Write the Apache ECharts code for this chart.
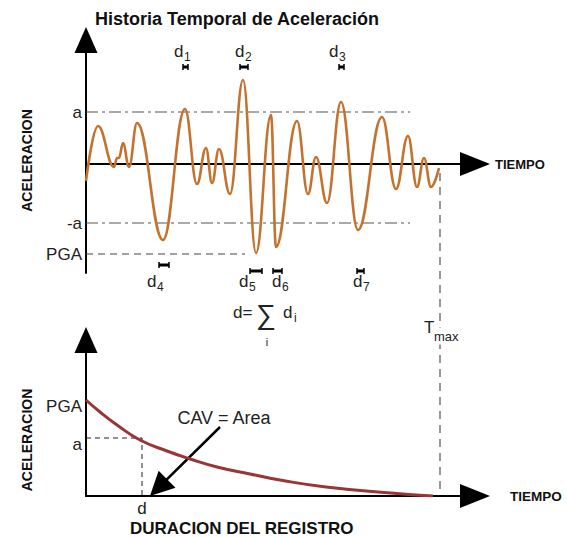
<!DOCTYPE html>
<html><head><meta charset="utf-8">
<script src="https://cdn.jsdelivr.net/npm/echarts@6.0.0/dist/echarts.min.js"></script>
<style>html,body{margin:0;padding:0;background:#fff}#c{width:567px;height:537px}</style>
</head><body><div id="c"></div>
<script>
// ---------- Top panel: acceleration time history (time in s, acceleration in g) ----------
const waveTime = [0, 1.2, 2.8, 3.1, 3.3, 3.7, 4.3, 5.1, 7.7, 9.9, 11.1, 12.0, 12.6, 13.3, 14.4, 15.7, 17.0, 18.5, 19.0, 21.1, 22.2, 23.0, 24.1, 25.5, 27.2, 29.6, 31.0, 32.2, 33.1, 33.8, 34.5, 35.3];
const waveAcc  = [-0.17, 0.38, -0.03, 0.06, 0.06, 0.21, -0.03, 0.41, -0.76, 0.55, -0.20, 0.16, -0.19, 0.15, -0.30, 0.84, -0.89, 0.49, -0.83, 0.43, -0.30, 0.07, -0.39, 0.62, -0.66, 0.47, -0.25, 0.28, -0.23, 0.06, -0.23, -0.04];
const aLevel = 0.52, negALevel = -0.59, pgaLevel = -0.90;
const aLineEnd = 32.4;       // end time of the ±a threshold lines
const pgaLineEnd = 15.9;     // end time of the PGA dashed line
const tMax = 35.4;
const tMaxLineTop = -0.09, tMaxLineBottom = -3.29;
const topYLabelValues = [aLevel, negALevel, pgaLevel];
const topYLabelTexts  = ['a', '-a', 'PGA'];
// exceedance intervals d1..d7 : [start, end] and the level of the marker
const dStart = [9.7, 15.4, 25.3, 7.3, 16.4, 18.7, 27.1];
const dEnd   = [10.2, 16.2, 25.8, 8.3, 17.6, 19.6, 27.8];
const dMarkLevel = [0.97, 0.97, 0.97, -1.01, -1.07, -1.07, -1.07];
const dLabelT = [8.8, 14.9, 24.3, 6.1, 15.3, 18.6, 26.7];
const dLabelA = [1.13, 1.13, 1.13, -1.17, -1.17, -1.17, -1.17];
const dSubs   = ['1', '2', '3', '4', '5', '6', '7'];
const sumLabelPos  = [14.7, -1.48];
const tMaxLabelPos = [33.8, -1.63];

// ---------- Bottom panel: threshold vs. duration ----------
const decayTime = [0, 1.4, 3.1, 5.4, 8.1, 10.4, 13.1, 16.4, 19.4, 24.0, 30.5, 34.7];
const decayAcc  = [0.96, 0.84, 0.71, 0.56, 0.45, 0.37, 0.29, 0.22, 0.16, 0.09, 0.03, 0.0];
const pgaB = 0.96, aB = 0.58, dTotal = 5.6;
const cavArrowFrom = [13.4, 0.69], cavArrowTo = [7.25, 0.084];
const cavLabelPos = [13.8, 0.78];

const F = '"Liberation Sans", Arial, Helvetica, sans-serif';
const X_MAX = 38.9;

const zip = (a, b) => a.map((v, i) => [v, b[i]]);
const txt = (x, y, text, size, extra) => ({type: 'text', x, y, style: Object.assign({text, font: size + 'px ' + F, fill: '#222', align: 'left', verticalAlign: 'middle'}, extra || {})});

const chart = echarts.init(document.getElementById('c'), null, {renderer: 'svg'});
const axisLineStyle = {color: '#000', width: 2};
chart.setOption({
  animation: false,
  backgroundColor: '#fff',
  title: [
    {text: 'Historia Temporal de Aceleración', left: 95, top: 10, padding: 0,
     textStyle: {fontSize: 18, fontWeight: 'bold', color: '#111', fontFamily: F}},
    {text: 'DURACION DEL REGISTRO', left: 130, top: 520, padding: 0,
     textStyle: {fontSize: 17, fontWeight: 'bold', color: '#111', fontFamily: F}}
  ],
  grid: [
    {left: 86, top: 40, width: 389, height: 233, outerBoundsMode: 'none'},
    {left: 86, top: 340, width: 389, height: 156, outerBoundsMode: 'none'}
  ],
  xAxis: [
    {gridIndex: 0, type: 'value', min: 0, max: X_MAX,
     axisLine: {onZero: true, symbol: ['none', 'triangle'], symbolSize: [24, 30], lineStyle: axisLineStyle},
     axisTick: {show: false}, axisLabel: {show: false}, splitLine: {show: false},
     name: 'TIEMPO', nameLocation: 'end', nameGap: 20,
     nameTextStyle: {fontSize: 13, fontWeight: 'bold', color: '#111', fontFamily: F}},
    {gridIndex: 1, type: 'value', min: 0, max: X_MAX,
     axisLine: {onZero: true, symbol: ['none', 'triangle'], symbolSize: [24, 30], lineStyle: axisLineStyle},
     axisTick: {show: false}, splitLine: {show: false},
     axisLabel: {customValues: [dTotal], formatter: () => 'd', margin: 4, fontSize: 17, color: '#222', fontFamily: F},
     name: 'TIEMPO', nameLocation: 'end', nameGap: 35,
     nameTextStyle: {fontSize: 13.5, fontWeight: 'bold', color: '#111', fontFamily: F}}
  ],
  yAxis: [
    {gridIndex: 0, type: 'value', min: -1.09, max: 1.24,
     axisLine: {onZero: true, symbol: ['none', 'triangle'], symbolSize: [23, 26], lineStyle: axisLineStyle},
     axisTick: {show: false}, splitLine: {show: false},
     axisLabel: {customValues: topYLabelValues, margin: 4, fontSize: 17, color: '#222', fontFamily: F,
       formatter: v => topYLabelTexts[topYLabelValues.indexOf(v)] || ''},
     name: 'ACELERACION', nameLocation: 'middle', nameRotate: 90, nameGap: 52,
     nameTextStyle: {fontSize: 14, fontWeight: 'bold', color: '#111', fontFamily: F, padding: [0, 8, 0, 0]}},
    {gridIndex: 1, type: 'value', min: 0, max: 1.56,
     axisLine: {onZero: true, symbol: ['none', 'triangle'], symbolSize: [23, 26], lineStyle: axisLineStyle},
     axisTick: {show: false}, splitLine: {show: false},
     axisLabel: {customValues: [pgaB, aB], margin: 4, fontSize: 17, color: '#222', fontFamily: F,
       verticalAlign: 'top', lineHeight: 12, formatter: v => (v === pgaB ? 'PGA' : 'a')},
     name: 'ACELERACION', nameLocation: 'middle', nameRotate: 90, nameGap: 52,
     nameTextStyle: {fontSize: 14, fontWeight: 'bold', color: '#111', fontFamily: F, padding: [0, 44, 0, 0]}}
  ],
  series: [
    // threshold lines
    {type: 'line', xAxisIndex: 0, yAxisIndex: 0, showSymbol: false, silent: true,
     data: [[0, aLevel], [aLineEnd, aLevel]], lineStyle: {color: '#555', width: 1.2, type: [12, 4, 3, 4]}},
    {type: 'line', xAxisIndex: 0, yAxisIndex: 0, showSymbol: false, silent: true,
     data: [[0, negALevel], [aLineEnd, negALevel]], lineStyle: {color: '#555', width: 1.2, type: [12, 4, 3, 4]}},
    {type: 'line', xAxisIndex: 0, yAxisIndex: 0, showSymbol: false, silent: true,
     data: [[0, pgaLevel], [pgaLineEnd, pgaLevel]], lineStyle: {color: '#444', width: 1, type: [7, 5]}},
    {type: 'line', xAxisIndex: 0, yAxisIndex: 0, showSymbol: false, silent: true, clip: false,
     data: [[tMax, tMaxLineTop], [tMax, tMaxLineBottom]], lineStyle: {color: '#777', width: 1.5, type: [8, 6]}},
    // waveform
    {type: 'line', xAxisIndex: 0, yAxisIndex: 0, showSymbol: false, silent: true, z: 5,
     smooth: 0.42, smoothMonotone: 'x',
     data: zip(waveTime, waveAcc), lineStyle: {color: '#c4732f', width: 2.6}},
    // duration markers
    {type: 'custom', xAxisIndex: 0, yAxisIndex: 0, silent: true, z: 6,
     data: dStart.map((s, i) => [s, dEnd[i], dMarkLevel[i]]),
     encode: {x: [0, 1], y: 2},
     renderItem: (params, api) => {
       const p1 = api.coord([api.value(0), api.value(2)]);
       const p2 = api.coord([api.value(1), api.value(2)]);
       const h = 3;
       return {type: 'group', children: [
         {type: 'line', shape: {x1: p1[0], y1: p1[1], x2: p2[0], y2: p2[1]}, style: {stroke: '#000', lineWidth: 3}},
         {type: 'line', shape: {x1: p1[0], y1: p1[1] - h, x2: p1[0], y2: p1[1] + h}, style: {stroke: '#000', lineWidth: 1.5}},
         {type: 'line', shape: {x1: p2[0], y1: p2[1] - h, x2: p2[0], y2: p2[1] + h}, style: {stroke: '#000', lineWidth: 1.5}}
       ]};
     }},
    // d_i labels
    {type: 'custom', xAxisIndex: 0, yAxisIndex: 0, silent: true, z: 6,
     data: zip(dLabelT, dLabelA), encode: {x: 0, y: 1},
     renderItem: (params, api) => {
       const p = api.coord([api.value(0), api.value(1)]);
       return {type: 'group', children: [
         txt(p[0], p[1], 'd', 17),
         txt(p[0] + 10, p[1] + 6, dSubs[params.dataIndex], 12)
       ]};
     }},
    // sum formula and Tmax label
    {type: 'custom', xAxisIndex: 0, yAxisIndex: 0, silent: true, z: 7,
     data: [sumLabelPos, tMaxLabelPos], encode: {x: 0, y: 1},
     renderItem: (params, api) => {
       const p = api.coord([api.value(0), api.value(1)]);
       if (params.dataIndex === 0) {
         return {type: 'group', children: [
           txt(p[0], p[1], 'd=', 17),
           txt(p[0] + 33, p[1] + 2, '\u2211', 28, {align: 'center'}),
           txt(p[0] + 34, p[1] + 30, 'i', 11, {align: 'center'}),
           txt(p[0] + 50, p[1], 'd', 17),
           txt(p[0] + 61, p[1] + 6, 'i', 12)
         ]};
       }
       return {type: 'group', children: [
         txt(p[0], p[1], 'T', 17),
         txt(p[0] + 10, p[1] + 9, 'max', 13, {backgroundColor: '#fff', padding: [2, 0, 2, 0]})
       ]};
     }},
    // bottom panel
    {type: 'line', xAxisIndex: 1, yAxisIndex: 1, showSymbol: false, silent: true,
     data: [[0, aB], [dTotal, aB], [dTotal, 0]], lineStyle: {color: '#222', width: 1, type: [5, 4]},
     markLine: {silent: true, animation: false, symbolSize: 24,
       lineStyle: {color: '#000', width: 2.5, type: 'solid'}, label: {show: false},
       data: [[{coord: cavArrowFrom, symbol: 'none'}, {coord: cavArrowTo, symbol: 'triangle'}]]}},
    {type: 'line', xAxisIndex: 1, yAxisIndex: 1, showSymbol: false, silent: true, z: 5, smooth: true,
     data: zip(decayTime, decayAcc), lineStyle: {color: '#993535', width: 3}},
    {type: 'custom', xAxisIndex: 1, yAxisIndex: 1, silent: true, z: 7,
     data: [cavLabelPos], encode: {x: 0, y: 1},
     renderItem: (params, api) => {
       const p = api.coord([api.value(0), api.value(1)]);
       return txt(p[0], p[1], 'CAV = Area', 18, {align: 'center'});
     }}
  ]
});
</script></body></html>
